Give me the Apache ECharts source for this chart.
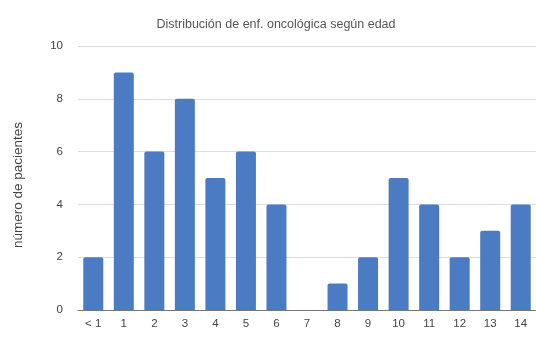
<!DOCTYPE html>
<html>
<head>
<meta charset="utf-8">
<script src="https://cdn.jsdelivr.net/npm/echarts@6/dist/echarts.min.js"></script>
<style>
  html, body { margin: 0; padding: 0; background: #fff; }
  #chart { width: 536px; height: 342px; }
</style>
</head>
<body>
<div id="chart"></div>
<script>
// Age groups (years) and number of patients per group
const ageGroups = ['< 1', '1', '2', '3', '4', '5', '6', '7', '8', '9', '10', '11', '12', '13', '14'];
const patients = [2, 9, 6, 8, 5, 6, 4, 0, 1, 2, 5, 4, 2, 3, 4];
const chartTitle = 'Distribución de enf. oncológica según edad';
const yAxisName = 'número de pacientes';

const chart = echarts.init(document.getElementById('chart'));
chart.setOption({
  animation: false,
  textStyle: { fontFamily: '"Liberation Sans", Arial, sans-serif' },
  title: {
    text: chartTitle,
    left: 271,
    textAlign: 'center',
    top: 13,
    textStyle: { fontSize: 12.5, fontWeight: 'normal', color: '#555' }
  },
  grid: { left: 78, right: 0, top: 46, bottom: 32 },
  xAxis: {
    type: 'category',
    data: ageGroups,
    axisTick: { show: false },
    axisLine: { lineStyle: { color: '#777', width: 1 } },
    axisLabel: { color: '#444', fontSize: 11.5, margin: 8 }
  },
  yAxis: {
    type: 'value',
    min: 0,
    max: 10,
    interval: 2,
    name: yAxisName,
    nameLocation: 'middle',
    nameGap: 53,
    nameTextStyle: { color: '#444', fontSize: 13.5, padding: [0, 14, 0, 0] },
    axisLabel: { color: '#444', fontSize: 11.5, margin: 15 },
    splitLine: { lineStyle: { color: '#ddd' } }
  },
  series: [{
    type: 'bar',
    data: patients,
    barWidth: 20,
    itemStyle: { color: '#4a7bc3', borderRadius: [2, 2, 0, 0] }
  }]
});
</script>
</body>
</html>
